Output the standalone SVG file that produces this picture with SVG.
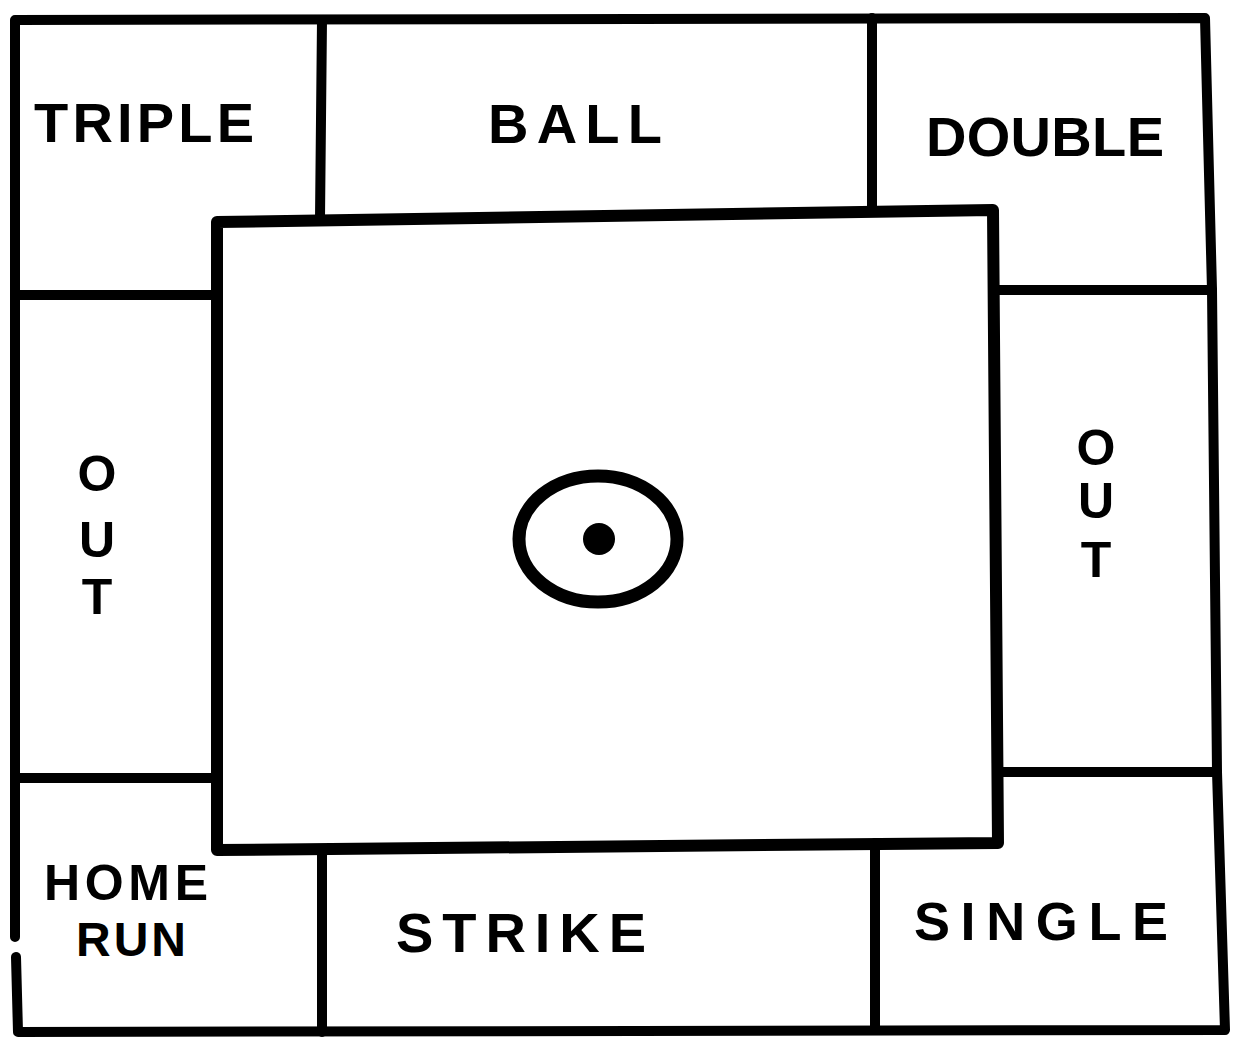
<svg xmlns="http://www.w3.org/2000/svg" width="1233" height="1042" viewBox="0 0 1233 1042">
<style>
.ln{fill:none;stroke:#000;stroke-width:10;stroke-linecap:round;stroke-linejoin:round}
.inner{fill:none;stroke:#000;stroke-width:12;stroke-linejoin:round}
.t{font-family:"Liberation Sans",Arial,sans-serif;font-weight:700;fill:#000}
.v{font-family:"Liberation Sans",Arial,sans-serif;font-weight:700;fill:#000;font-size:50px;text-anchor:middle}
</style>
<rect width="1233" height="1042" fill="#fff"/>
<g id="board">
<polyline class="ln" points="15,937 15,20 1205,18 1212,290 1217,772 1225,1030 18,1032 16,957"/>
<path class="inner" d="M217 222 L993 210 L998 843 L217 850 Z"/>
</g>
<g id="dividers">
<line class="ln" x1="322" y1="20" x2="320" y2="218"/>
<line class="ln" x1="872" y1="18" x2="872" y2="210"/>
<line class="ln" x1="15" y1="295" x2="217" y2="295"/>
<line class="ln" x1="993" y1="290" x2="1212" y2="290"/>
<line class="ln" x1="15" y1="778" x2="217" y2="778"/>
<line class="ln" x1="997" y1="772" x2="1217" y2="772"/>
<line class="ln" x1="322" y1="850" x2="322" y2="1032"/>
<line class="ln" x1="875" y1="843" x2="875" y2="1030"/>
</g>
<g id="target">
<ellipse cx="598" cy="539" rx="79" ry="63" fill="none" stroke="#000" stroke-width="13"/>
<circle cx="599" cy="539" r="16" fill="#000"/>
</g>
<g id="triple"><text class="t" x="34" y="142" font-size="56" textLength="220" lengthAdjust="spacing">TRIPLE</text></g>
<g id="ball"><text class="t" x="488" y="143" font-size="56" textLength="174" lengthAdjust="spacing">BALL</text></g>
<g id="double"><text class="t" x="926" y="156" font-size="56" textLength="238" lengthAdjust="spacing">DOUBLE</text></g>
<g id="out-left">
<text class="v" x="97" y="491">O</text>
<text class="v" x="97" y="557">U</text>
<text class="v" x="97" y="614">T</text>
</g>
<g id="out-right">
<text class="v" x="1096" y="465">O</text>
<text class="v" x="1096" y="518">U</text>
<text class="v" x="1096" y="577">T</text>
</g>
<g id="home-run">
<text class="t" x="44" y="900" font-size="50" textLength="164" lengthAdjust="spacing">HOME</text>
<text class="t" x="76" y="956" font-size="48" textLength="110" lengthAdjust="spacing">RUN</text>
</g>
<g id="strike"><text class="t" x="396" y="952" font-size="56" textLength="250" lengthAdjust="spacing">STRIKE</text></g>
<g id="single"><text class="t" x="914" y="940" font-size="54" textLength="254" lengthAdjust="spacing">SINGLE</text></g>
</svg>
